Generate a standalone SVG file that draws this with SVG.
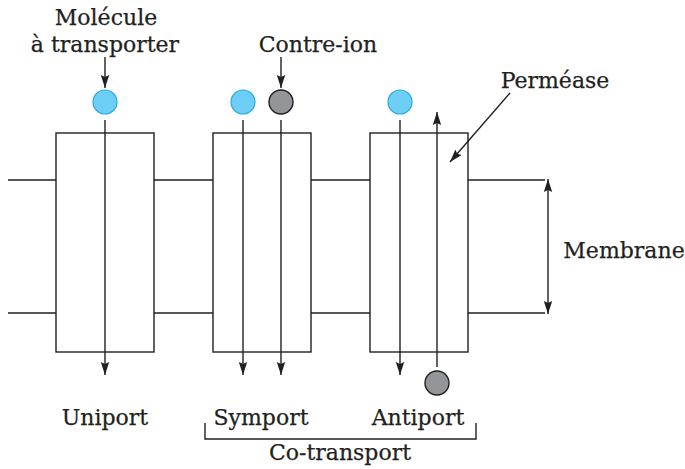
<svg xmlns="http://www.w3.org/2000/svg" width="685" height="469" viewBox="0 0 685 469">
<defs>
<style>
.ln{stroke:#231f20;stroke-width:1.4;fill:none}
.box{stroke:#231f20;stroke-width:1.4;fill:#fff}
.blue{fill:#6dcff6;stroke:#29abe2;stroke-width:1.2}
.grey{fill:#939598;stroke:#231f20;stroke-width:1.4}
text{font-family:"DejaVu Serif","Liberation Serif",serif;font-size:22px;fill:#231f20;stroke:#231f20;stroke-width:0.25}
</style>
<marker id="ah" markerUnits="userSpaceOnUse" markerWidth="14" markerHeight="10" refX="13" refY="5" orient="auto">
<path d="M0,0.8 L13,5 L0,9.2 L2,5 z" fill="#231f20"/>
</marker>
<marker id="ahs" markerUnits="userSpaceOnUse" markerWidth="14" markerHeight="10" refX="13" refY="5" orient="auto-start-reverse">
<path d="M0,0.8 L13,5 L0,9.2 L2,5 z" fill="#231f20"/>
</marker>
</defs>
<rect width="685" height="469" fill="#fff"/>
<g id="membrane">
<path class="ln" d="M8,180 H56 M154,180 H213 M311,180 H370 M468,180 H545 M8,313 H56 M154,313 H213 M311,313 H370 M468,313 H545"/>
</g>
<g id="uniport">
<rect class="box" x="56" y="133" width="98" height="219"/>
<circle class="blue" cx="105" cy="102" r="12"/>
<text x="105" y="425" text-anchor="middle">Uniport</text>
</g>
<g id="symport">
<rect class="box" x="213" y="133" width="98" height="219"/>
<circle class="blue" cx="243" cy="102" r="12"/>
<circle class="grey" cx="281" cy="102" r="12"/>
<text x="261" y="425" text-anchor="middle">Symport</text>
</g>
<g id="antiport">
<rect class="box" x="370" y="133" width="98" height="219"/>
<circle class="blue" cx="400" cy="102" r="12"/>
<circle class="grey" cx="437" cy="383" r="12"/>
<text x="418" y="425" text-anchor="middle">Antiport</text>
</g>
<g id="labels">
<text x="106" y="25" text-anchor="middle">Molécule</text>
<text x="105" y="52" text-anchor="middle">à transporter</text>
<text x="318" y="52" text-anchor="middle">Contre-ion</text>
<text x="555" y="88" text-anchor="middle">Perméase</text>
<text x="624" y="258" text-anchor="middle">Membrane</text>
<text x="340" y="460" text-anchor="middle">Co-transport</text>
</g>
<g id="connectors">
<line class="ln" x1="105" y1="57" x2="105" y2="88" marker-end="url(#ah)"/>
<line class="ln" x1="281" y1="57" x2="281" y2="88" marker-end="url(#ah)"/>
<line class="ln" x1="510" y1="93" x2="450" y2="162" marker-end="url(#ah)"/>
<line class="ln" x1="105" y1="120" x2="105" y2="375" marker-end="url(#ah)"/>
<line class="ln" x1="243" y1="120" x2="243" y2="375" marker-end="url(#ah)"/>
<line class="ln" x1="281" y1="120" x2="281" y2="375" marker-end="url(#ah)"/>
<line class="ln" x1="400" y1="120" x2="400" y2="375" marker-end="url(#ah)"/>
<line class="ln" x1="437" y1="367" x2="437" y2="112" marker-end="url(#ah)"/>
<line class="ln" x1="548" y1="179" x2="548" y2="314" marker-start="url(#ahs)" marker-end="url(#ah)"/>
<path class="ln" d="M205,423 V439 H476 V423"/>
</g>
</svg>
